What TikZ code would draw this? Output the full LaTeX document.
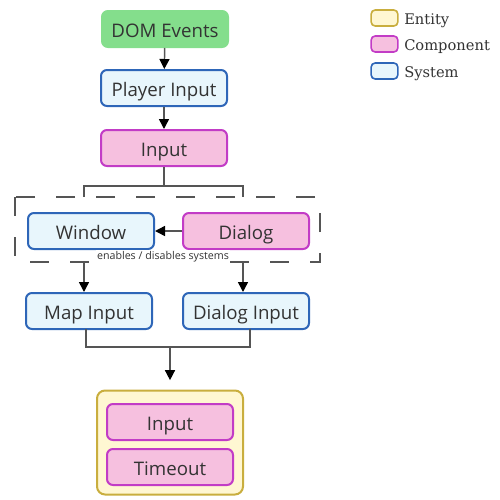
\documentclass[tikz,border=0pt]{standalone}
\usepackage{fontspec}
\setmainfont{Open Sans}
\newfontfamily\legendfont{DejaVu Serif}
\usetikzlibrary{arrows.meta}
\definecolor{txtgray}{HTML}{333333}
\definecolor{linegray}{HTML}{555555}
\definecolor{domfill}{HTML}{84DE8C}
\definecolor{sysfill}{HTML}{E8F6FC}
\definecolor{sysline}{HTML}{2E66B8}
\definecolor{compfill}{HTML}{F6C0DF}
\definecolor{compline}{HTML}{C23CC6}
\definecolor{entfill}{HTML}{FFF7D2}
\definecolor{entline}{HTML}{C9AE3E}
\tikzset{
  box/.style={rounded corners=4.5pt, line width=1.5pt, minimum width=94.5pt,
    minimum height=27pt, inner sep=0pt, text=txtgray, text height=12.5pt,
    text depth=0.5pt, font=\fontsize{14}{16}\selectfont},
  event/.style={box, fill=domfill, draw=domfill},
  system/.style={box, draw=sysline, fill=sysfill},
  component/.style={box, draw=compline, fill=compfill},
  swatch/.style={rounded corners=3pt, line width=1.2pt, minimum width=20pt,
    minimum height=12pt, inner sep=0pt},
  legendtext/.style={anchor=west, inner sep=0pt, text=txtgray, text height=9pt,
    text depth=0pt, font=\legendfont\fontsize{11}{13}\selectfont},
  link/.style={draw=linegray, line width=1.1pt},
  flow/.style={link, -{Triangle[width=7.5pt,length=7.5pt,color=black]}},
}
\begin{document}
\begin{tikzpicture}[x=0.75pt,y=-0.75pt]
  \useasboundingbox (0,0) rectangle (500,500);
  % legend
  \node[swatch, fill=entfill, draw=entline] (entkey) at (384.5,18) {};
  \node[swatch, fill=compfill, draw=compline] (compkey) at (384.5,44) {};
  \node[swatch, fill=sysfill, draw=sysline] (syskey) at (384.5,71) {};
  \node[legendtext] (entlabel) at (404,18) {Entity};
  \node[legendtext] (complabel) at (404,44) {Component};
  \node[legendtext] (syslabel) at (404,71) {System};
  % flow
  \node[event] (dom) at (165,29) {DOM Events};
  \node[system] (player) at (164,88) {Player Input};
  \node[component] (input) at (164,148) {Input};
  \draw[dashed, dash pattern=on 14pt off 16pt, draw=linegray, line width=1.1pt]
    (15,197) rectangle (320,262);
  \node[system] (window) at (91,231) {Window};
  \node[component] (dialog) at (246,231) {Dialog};
  \node[fill=white, inner sep=1pt, text=txtgray, font=\fontsize{8}{9.5}\selectfont]
    (enables) at (163,257) {enables / disables systems};
  \node[system] (mapin) at (89,311) {Map Input};
  \node[system] (dialogin) at (246,311) {Dialog Input};
  \node[fill=entfill, draw=entline, line width=1.5pt, rounded corners=6pt,
    minimum width=109.5pt, minimum height=78pt] (entity) at (170,442.5) {};
  \node[component] (entinput) at (170,422) {Input};
  \node[component] (timeout) at (170,467) {Timeout};
  % connectors
  \coordinate (gl) at (84,197);
  \coordinate (gr) at (243,197);
  \coordinate (bl) at (84,262);
  \coordinate (br) at (243,262);
  \draw[flow] (dom) -- (player);
  \draw[flow] (player) -- (input);
  \draw[link] (input.south) -- ++(0,19) -| (gl);
  \draw[link] (input.south) -- ++(0,19) -| (gr);
  \draw[flow] (dialog) -- (window);
  \draw[flow] (bl) -- (bl |- mapin.north);
  \draw[flow] (br) -- (br |- dialogin.north);
  \draw[link] (86,329) -- ++(0,18) -| (250,329);
  \draw[flow, shorten >=7pt] (170,347) -- (entity.north);
\end{tikzpicture}
\end{document}
